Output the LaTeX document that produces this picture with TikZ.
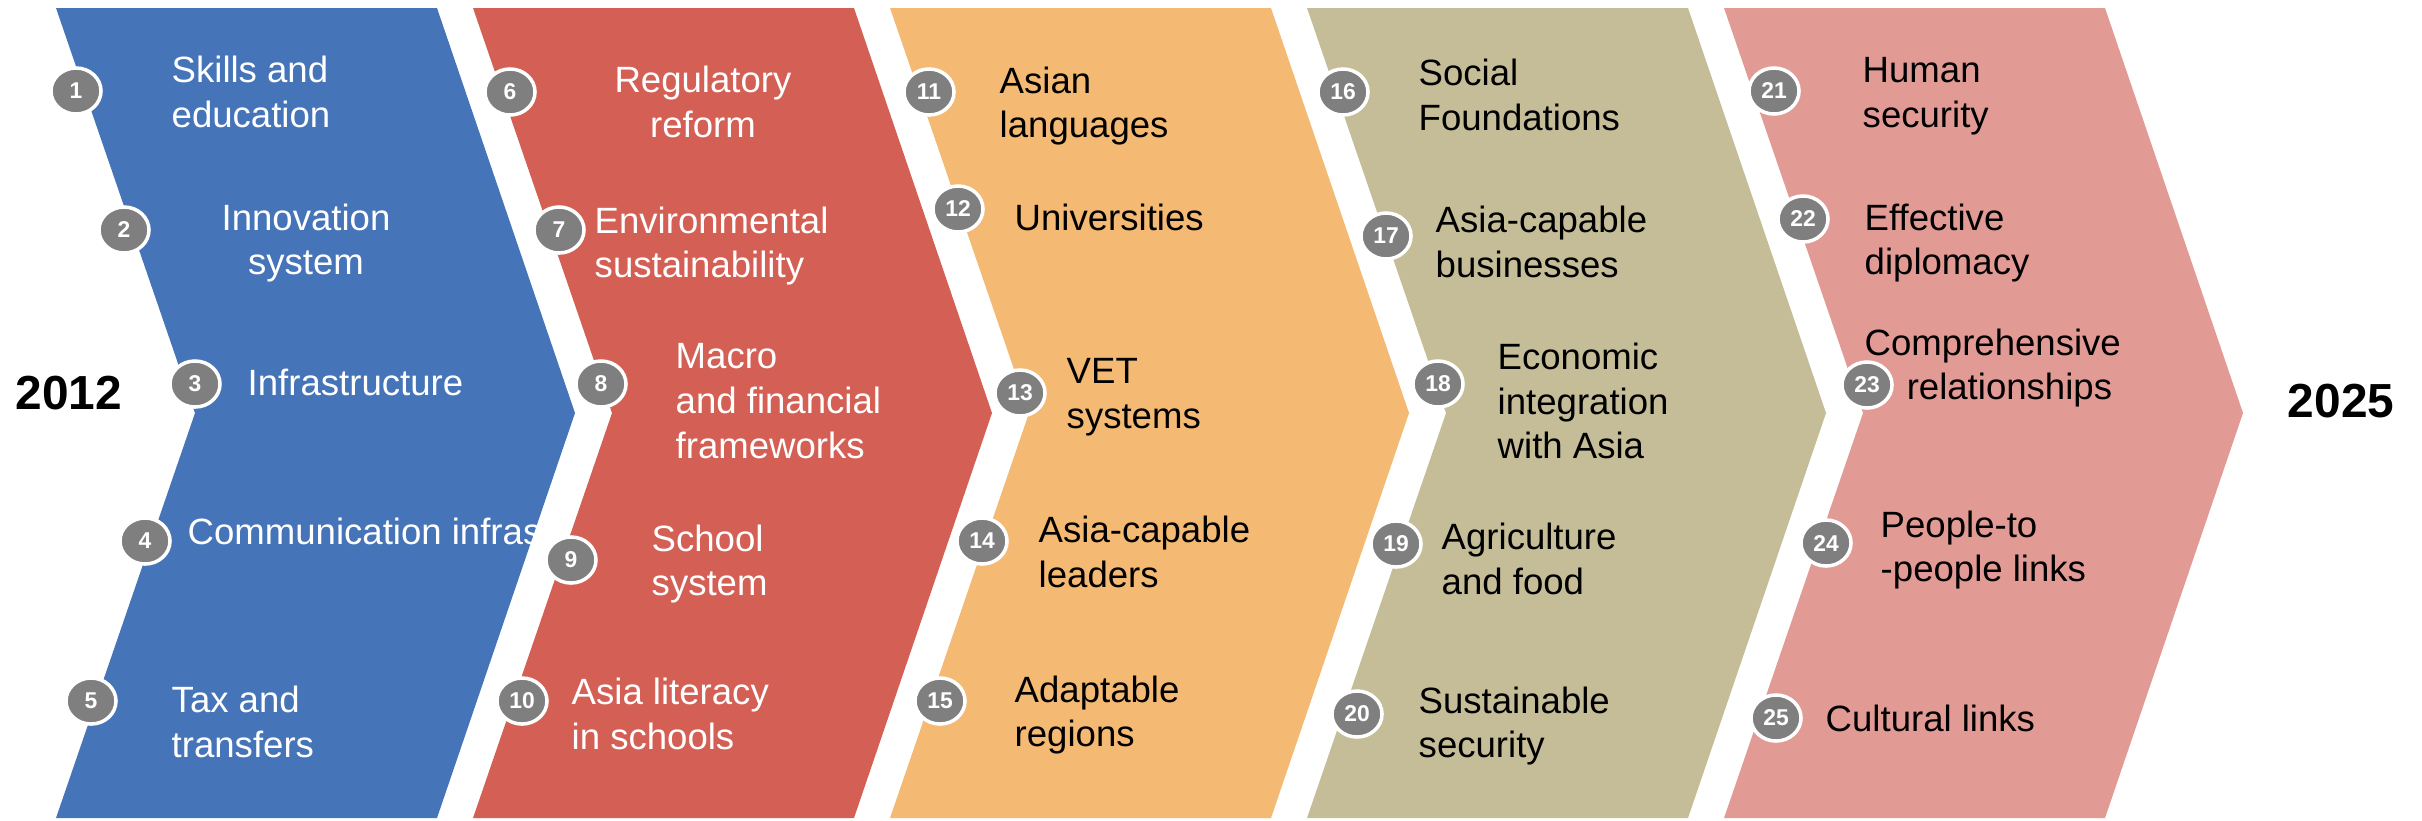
\documentclass[tikz,border=0pt]{standalone}
\usepackage{fontspec}
\setmainfont{Liberation Sans}
\usetikzlibrary{shapes.geometric}
\definecolor{chevblue}{HTML}{4674B8}
\definecolor{chevred}{HTML}{D45F55}
\definecolor{chevorange}{HTML}{F4B973}
\definecolor{chevkhaki}{HTML}{C4BD97}
\definecolor{chevpink}{HTML}{E29A95}
\definecolor{numgray}{HTML}{7F7F7F}
\begin{document}
\begin{tikzpicture}[x = 0.01cm, y = -0.01cm, num/.style = {ellipse, draw = white, line width = 1pt, fill = numgray, minimum width = 0.5cm, minimum height = 0.46cm, inner sep = 0, text = white, font = \bfseries\fontsize{6.5}{7}\selectfont}, item/.style = {anchor = west, align = left, inner sep = 0, font = \fontsize{10.4}{12.7}\selectfont}, year/.style = {font = \bfseries\fontsize{13.6}{16}\selectfont}]
			\useasboundingbox (0,0) rectangle (2422,820);
			% blue
			\fill[chevblue] (56,8) -- (437,8) -- (575,413) -- (437,818) -- (56,818) -- (195,413) -- cycle;
			\node[num] (1) at (76,91) {1};
			\node[num] (2) at (124,230) {2};
			\node[num] (3) at (195,384) {3};
			\node[num] (4) at (145,541) {4};
			\node[num] (5) at (91,701) {5};
			\node[item, text = white] (l1) at (171,92) {Skills and\\education};
			\node[item, text = white, anchor = center, align = center] (l2) at (306,243) {Innovation\\system};
			\node[item, text = white] (l3) at (247,382) {Infrastructure};
			\node[item, text = white] (l4) at (187,531) {Communication infras};
			\node[item, text = white] (l5) at (171,722) {Tax and\\transfers};
			% red
			\fill[chevred] (473,8) -- (854,8) -- (992,413) -- (854,818) -- (473,818) -- (612,413) -- cycle;
			\node[num] (6) at (510,92) {6};
			\node[num] (7) at (559,230) {7};
			\node[num] (8) at (601,384) {8};
			\node[num] (9) at (571,560) {9};
			\node[num] (10) at (522,701) {10};
			\node[item, text = white, anchor = center, align = center] (l6) at (703,102) {Regulatory\\reform};
			\node[item, text = white] (l7) at (594,246) {Environmental\\sustainability};
			\node[item, text = white] (l8) at (675,401) {Macro\\and financial\\frameworks};
			\node[item, text = white] (l9) at (651,564) {School\\system};
			\node[item, text = white] (l10) at (571,714) {Asia literacy\\in schools};
			% orange
			\fill[chevorange] (890,8) -- (1271,8) -- (1409,413) -- (1271,818) -- (890,818) -- (1029,413) -- cycle;
			\node[num] (11) at (929,92) {11};
			\node[num] (12) at (958,209) {12};
			\node[num] (13) at (1020,393) {13};
			\node[num] (14) at (982,541) {14};
			\node[num] (15) at (940,701) {15};
			\node[item] (l11) at (999,106) {Asian\\languages};
			\node[item] (l12) at (1014,217) {Universities};
			\node[item] (l13) at (1066,397) {VET\\systems};
			\node[item] (l14) at (1038,552) {Asia-capable\\leaders};
			\node[item] (l15) at (1014,715) {Adaptable\\regions};
			% khaki
			\fill[chevkhaki] (1307,8) -- (1688,8) -- (1826,413) -- (1688,818) -- (1307,818) -- (1446,413) -- cycle;
			\node[num] (16) at (1343,92) {16};
			\node[num] (17) at (1386,236) {17};
			\node[num] (18) at (1438,384) {18};
			\node[num] (19) at (1396,544) {19};
			\node[num] (20) at (1357,714) {20};
			\node[item] (l16) at (1418,95) {Social\\Foundations};
			\node[item] (l17) at (1435,242) {Asia-capable\\businesses};
			\node[item] (l18) at (1497,401) {Economic\\integration\\with Asia};
			\node[item] (l19) at (1441,559) {Agriculture\\and food};
			\node[item] (l20) at (1418,726) {Sustainable\\security};
			% pink
			\fill[chevpink] (1724,8) -- (2105,8) -- (2243,413) -- (2105,818) -- (1724,818) -- (1863,413) -- cycle;
			\node[num] (21) at (1774,91) {21};
			\node[num] (22) at (1803,219) {22};
			\node[num] (23) at (1867,385) {23};
			\node[num] (24) at (1826,543) {24};
			\node[num] (25) at (1776,718) {25};
			\node[item] (l21) at (1862,96) {Human\\security};
			\node[item] (l22) at (1864,243) {Effective\\diplomacy};
			\node[item] (l23) at (1864,368) {Comprehensive\\\hspace*{0.42cm}relationships};
			\node[item] (l24) at (1880,550) {People-to\\-people links};
			\node[item] (l25) at (1825,718) {Cultural links};
			% start and end
			\node[year] (y1) at (69,393) {2012};
			\node[year] (y2) at (2341,401) {2025};
		\end{tikzpicture}
\end{document}
